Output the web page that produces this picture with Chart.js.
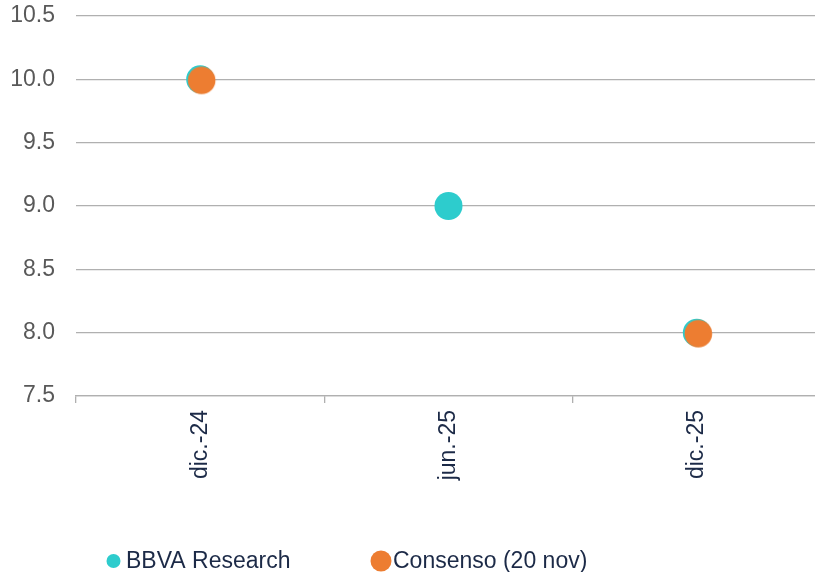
<!DOCTYPE html>
<html><head><meta charset="utf-8">
<script src="https://cdn.jsdelivr.net/npm/chart.js@4"></script>
<style>html,body{margin:0;padding:0;background:#fff;overflow:hidden}#wrap{width:815px;height:572px;overflow:hidden;position:relative}canvas{display:block}</style>
</head><body><div id="wrap"><canvas id="c" width="821" height="572"></canvas></div>
<script>
const categories = ['dic.-24', 'jun.-25', 'dic.-25'];
const bbvaValues = [10.0, 9.0, 8.0];
const consensoValues = [10.0, null, 8.0];
const seriesNames = ['BBVA Research', 'Consenso (20 nov)'];
const yMin = 7.5, yMax = 10.5, yStep = 0.5;

const FONT = { family: '"Liberation Sans", Arial, sans-serif', size: 23 };
const NAVY = '#1c2a47';
const GRID = '#b0b0b0';
const TEAL = '#2dcccd';
const ORANGE = '#ed7d31';

// marker sprite for the consensus points (drawn slightly offset over the BBVA dot)
function makeDot(color, r, dx, dy) {
  const c = document.createElement('canvas');
  c.width = 34; c.height = 34;
  const g = c.getContext('2d');
  g.fillStyle = color;
  g.beginPath();
  g.arc(17 + dx, 17 + dy, r, 0, Math.PI * 2);
  g.fill();
  return c;
}
const orangeDot = makeDot(ORANGE, 13.8, 1.5, 1);

const legendPlugin = {
  id: 'customLegend',
  afterDraw(chart) {
    const ctx = chart.ctx;
    const y = 561;
    const layout = [
      { cx: 113.5, r: 7, tx: 126 },
      { cx: 381, r: 10.5, tx: 393 }
    ];
    ctx.save();
    ctx.font = `${FONT.size}px ${FONT.family}`;
    ctx.textBaseline = 'middle';
    ctx.textAlign = 'left';
    chart.data.datasets.forEach((ds, i) => {
      const L = layout[i];
      ctx.beginPath();
      ctx.arc(L.cx, y, L.r, 0, Math.PI * 2);
      ctx.fillStyle = ds.backgroundColor;
      ctx.fill();
      ctx.fillStyle = NAVY;
      ctx.fillText(ds.label, L.tx, y + 1);
    });
    ctx.restore();
  }
};

new Chart(document.getElementById('c'), {
  type: 'line',
  data: {
    labels: categories,
    datasets: [
      {
        label: seriesNames[0], data: bbvaValues, showLine: false,
        backgroundColor: TEAL, borderColor: TEAL, pointRadius: 14, pointHoverRadius: 14,
        pointBorderWidth: 0, order: 1
      },
      {
        label: seriesNames[1], data: consensoValues, showLine: false,
        backgroundColor: ORANGE, borderColor: ORANGE, pointStyle: orangeDot,
        pointRadius: 14, pointHoverRadius: 14, pointBorderWidth: 0, order: 0
      }
    ]
  },
  options: {
    responsive: false,
    animation: false,
    layout: { autoPadding: false, padding: { top: 16, left: 0, right: 0, bottom: 86 } },
    plugins: { legend: { display: false }, tooltip: { enabled: false } },
    scales: {
      x: {
        offset: true,
        grid: { display: true, offset: true, drawOnChartArea: false, drawTicks: true, tickLength: 7, color: GRID, lineWidth: 1.3 },
        border: { display: true, color: GRID, width: 1.3 },
        ticks: { maxRotation: 90, minRotation: 90, padding: 7, color: NAVY, font: FONT },
        afterFit(s) { s.height = 90; s.paddingLeft = 0; s.paddingRight = 0; }
      },
      y: {
        min: yMin, max: yMax,
        ticks: { stepSize: yStep, padding: 21, color: '#595959', font: FONT, callback: v => v.toFixed(1) },
        grid: { color: GRID, drawTicks: false, lineWidth: 1.3 },
        border: { display: false },
        afterFit(s) { s.width = 76; s.paddingTop = 0; s.paddingBottom = 0; }
      }
    }
  },
  plugins: [legendPlugin]
});
</script>
</body></html>
